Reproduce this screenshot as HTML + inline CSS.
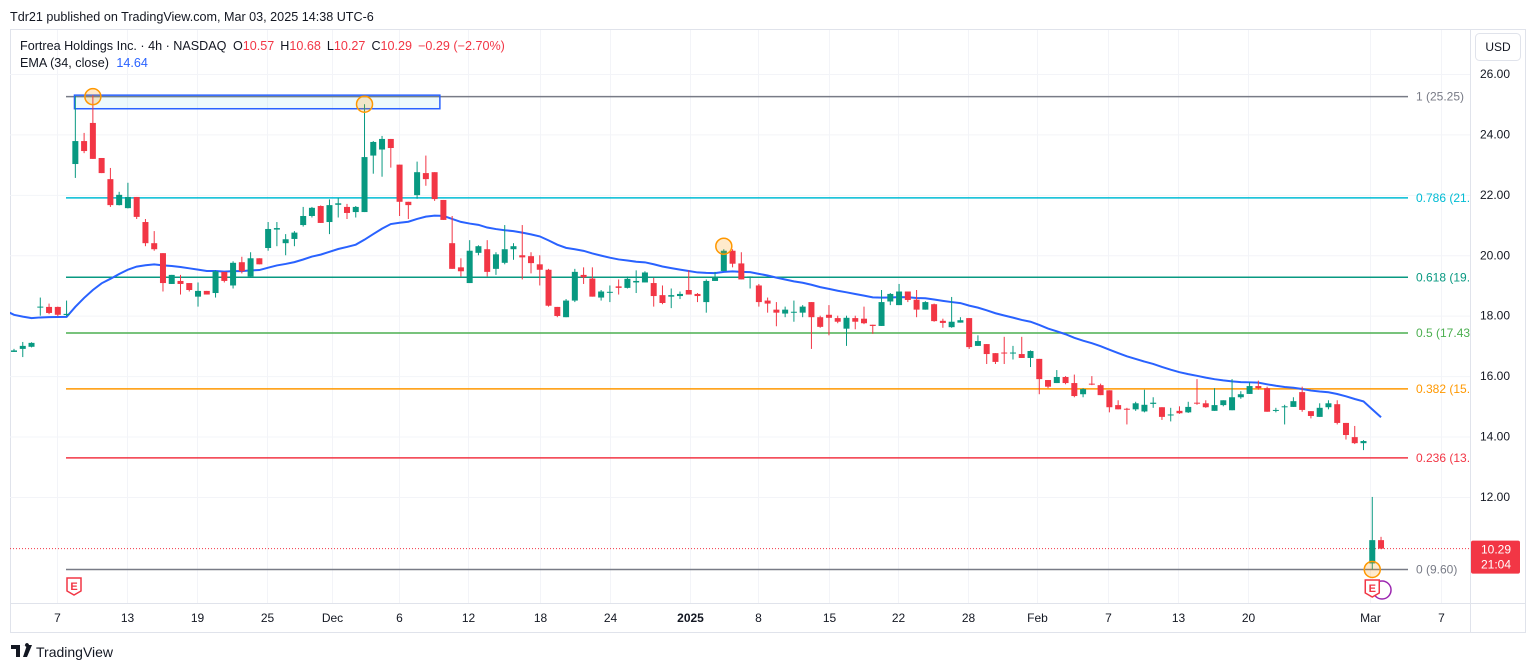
<!DOCTYPE html>
<html><head><meta charset="utf-8"><style>
html,body{margin:0;padding:0;background:#fff;width:1536px;height:670px;overflow:hidden;font-family:"Liberation Sans",sans-serif;}
svg{display:block}
</style></head><body>
<svg id="c" width="1536" height="670" xmlns="http://www.w3.org/2000/svg">
<defs><clipPath id="pane"><rect x="10" y="30" width="1460" height="573"/></clipPath></defs>
<rect x="10.5" y="29.5" width="1515" height="603" fill="#fff" stroke="#e0e3eb"/>
<line x1="1470.5" y1="30" x2="1470.5" y2="632" stroke="#e0e3eb"/>
<line x1="10" y1="603.5" x2="1526" y2="603.5" stroke="#e0e3eb"/>
<g id="grid"></g>
<g id="fib" clip-path="url(#pane)"></g>
<g id="candles" clip-path="url(#pane)"></g>
<g id="anno"></g>
<g id="axes"></g>
<text x="10" y="21" font-size="12.6" fill="#131722">Tdr21 published on TradingView.com, Mar 03, 2025 14:38 UTC-6</text>
<text x="20" y="50" font-size="12.6" fill="#131722">Fortrea Holdings Inc. · 4h · NASDAQ <tspan dx="3">O</tspan><tspan fill="#f23645">10.57</tspan><tspan dx="6">H</tspan><tspan fill="#f23645">10.68</tspan><tspan dx="6">L</tspan><tspan fill="#f23645">10.27</tspan><tspan dx="6">C</tspan><tspan fill="#f23645">10.29</tspan><tspan dx="6" fill="#f23645">−0.29 (−2.70%)</tspan></text>
<text x="20" y="67" font-size="12.6" fill="#131722">EMA (34, close) <tspan dx="4" fill="#2962ff">14.64</tspan></text>
<rect x="1475.5" y="33.5" width="45" height="27" rx="4" fill="#fff" stroke="#e0e3eb"/>
<text x="1498" y="51" font-size="12" fill="#131722" text-anchor="middle">USD</text>
<g>
<path d="M11 645h9v12h-4v-8h-5z M22 645h3a2 2 0 1 1 0 .1z M27 645h5l-5 12h-4z" fill="#131722"/>
<text x="36" y="657" font-size="14" fill="#131722">TradingView</text>
</g>
</svg>
<script>
const opens=[16.8,16.9,16.97,18.28,18.29,18.29,18.02,23.02,23.78,24.38,23.22,22.52,21.66,21.56,21.93,21.1,20.4,20.07,19.05,19.15,19.08,18.63,18.82,18.75,19.45,19.0,19.77,19.3,19.9,20.24,20.85,20.4,20.54,21.0,21.3,21.63,21.1,21.67,21.6,21.43,21.43,23.3,23.5,23.85,23.0,21.77,21.99,22.72,22.75,21.83,20.4,19.6,19.08,20.08,20.2,19.55,19.75,20.2,20.0,19.97,19.7,19.52,18.29,17.95,18.5,19.35,19.23,18.6,18.76,18.97,18.92,19.1,19.1,19.08,18.68,18.63,18.65,18.85,18.72,18.45,19.15,19.48,20.15,19.73,19.25,19.0,18.5,18.2,18.07,18.1,18.1,18.45,17.95,18.03,17.92,17.57,17.92,17.9,17.7,17.66,18.47,18.35,18.8,18.53,18.2,18.38,17.83,17.62,17.77,17.92,17.0,17.06,16.76,16.78,16.75,16.73,16.6,16.57,15.87,15.77,15.97,15.77,15.4,15.75,15.7,15.53,15.04,14.92,14.9,14.83,15.08,14.97,14.7,14.85,14.8,15.12,15.1,14.85,15.04,14.87,15.3,15.41,15.67,15.6,14.85,14.98,14.98,15.47,14.84,14.65,14.97,15.07,14.45,13.98,13.78,9.8,10.57];
const highs=[16.9,17.13,17.12,18.6,18.4,18.3,18.5,25.27,24.05,25.3,23.22,22.89,22.1,22.4,21.93,21.2,20.8,20.07,19.35,19.35,19.08,19.1,18.82,19.5,19.45,19.8,19.95,20.1,19.9,21.1,21.1,20.7,20.8,21.6,21.6,21.65,21.85,21.9,21.7,21.63,25.0,23.78,23.95,23.85,23.0,21.77,23.1,23.3,22.75,21.83,21.3,19.9,20.5,20.33,20.5,20.1,21.0,20.4,21.0,20.1,20.0,19.55,18.29,18.55,19.55,19.6,19.6,18.85,19.0,19.2,19.3,19.5,19.47,19.25,19.0,18.9,18.8,19.5,18.75,19.2,19.45,20.2,20.2,20.1,19.3,19.05,18.6,18.45,18.3,18.5,18.35,18.45,18.0,18.35,18.0,18.0,18.0,18.3,17.7,18.85,18.75,19.05,18.8,18.85,18.48,18.4,17.9,18.62,17.95,17.92,17.35,17.06,16.76,17.3,17.0,17.3,16.85,16.57,15.87,16.2,16.0,16.05,15.6,16.0,15.75,15.53,15.2,14.95,15.15,15.55,15.3,14.97,14.95,15.0,15.15,15.9,15.2,15.6,15.2,15.9,15.5,15.8,15.85,15.65,14.95,15.05,15.3,15.65,14.84,15.1,15.2,15.2,14.45,14.35,13.88,12.0,10.68];
const lows=[16.8,16.63,16.95,18.0,18.05,17.98,17.98,22.56,23.38,23.19,22.72,21.6,21.65,21.55,21.2,20.3,20.15,18.8,19.05,18.7,18.8,18.3,18.7,18.6,19.1,18.9,19.4,19.3,19.7,20.15,20.3,20.0,20.3,20.95,21.25,21.07,20.7,21.25,21.2,21.25,21.43,22.7,22.6,22.9,21.3,21.2,21.87,22.3,21.8,21.17,19.55,19.3,19.08,20.0,19.3,19.35,19.7,19.85,19.2,19.4,19.0,18.3,17.95,17.95,18.45,19.05,18.63,18.5,18.45,18.7,18.9,18.75,19.1,18.3,18.38,18.25,18.55,18.7,18.45,18.1,19.15,19.48,19.6,19.2,18.9,18.3,18.1,17.65,17.95,17.8,17.95,16.9,17.6,17.35,17.75,17.0,17.55,17.72,17.4,17.66,18.35,18.35,18.45,17.95,18.2,17.8,17.6,17.6,17.77,16.9,17.0,16.4,16.4,16.4,16.55,16.6,16.3,15.4,15.6,15.77,15.73,15.3,15.3,15.7,15.37,14.8,14.9,14.4,14.85,14.8,14.95,14.55,14.5,14.75,14.78,15.05,14.95,14.85,15.0,14.87,15.25,15.41,15.55,14.82,14.8,14.4,14.98,14.82,14.6,14.65,14.9,14.4,13.9,13.75,13.55,9.6,10.27];
const closes=[16.85,17.0,17.1,18.3,18.09,18.03,18.06,23.78,23.45,23.19,22.72,21.66,22.0,21.93,21.27,20.4,20.2,19.08,19.35,19.05,18.85,18.82,18.7,19.47,19.15,19.75,19.47,19.9,19.7,20.87,20.9,20.53,20.75,21.3,21.57,21.07,21.66,21.72,21.4,21.6,23.25,23.75,23.85,23.55,21.77,21.66,22.75,22.52,21.86,21.17,19.55,19.47,20.15,20.3,19.45,20.03,20.2,20.3,19.93,19.74,19.52,18.33,17.99,18.5,19.45,19.27,18.63,18.8,18.79,18.92,19.22,19.15,19.43,18.65,18.42,18.68,18.72,18.7,18.65,19.15,19.28,20.15,19.72,19.2,19.3,18.45,18.4,18.1,18.2,18.13,18.3,17.95,17.63,17.93,17.8,17.93,17.8,17.75,17.66,18.45,18.72,18.8,18.52,18.2,18.45,17.82,17.76,17.8,17.85,16.96,17.16,16.73,16.47,16.76,16.78,16.6,16.83,15.9,15.65,15.97,15.77,15.34,15.57,15.73,15.37,14.97,14.9,14.9,15.1,15.05,15.12,14.65,14.73,14.77,14.98,15.1,14.97,15.04,15.2,15.3,15.4,15.67,15.6,14.82,14.88,15.0,15.17,14.88,14.68,14.95,15.1,14.45,14.05,13.78,13.85,10.57,10.29];
const emaSeed=18.1;
const emaLength=34;
const priceTicks=[26,24,22,20,18,16,14,12];
const timeTickIdx=[4.9,12.9,20.9,28.9,36.3,43.9,51.8,60,68,77.1,84.9,93,100.9,108.9,116.7,124.8,132.8,140.8,154.7,162.8];
const timeTickLabels=["7","13","19","25","Dec","6","12","18","24","2025","8","15","22","28","Feb","7","13","20","Mar","7"];
const fibRatios=[1,0.786,0.618,0.5,0.382,0.236,0];
const fibHigh=25.25, fibLow=9.60;
const fibColors=["#787b86","#00bcd4","#089981","#4caf50","#ff9800","#f23645","#787b86"];
const highlightIdx=[9,40,81,155];
const highlightPrice=[25.25,25.0,20.3,9.6];
const lastPrice=10.29;

const NS="http://www.w3.org/2000/svg";
const Y=p=>74+(26-p)*30.21;
const X=i=>14+i*8.763;
function mk(tag,attrs,parent,text){const e=document.createElementNS(NS,tag);for(const k in attrs)e.setAttribute(k,attrs[k]);if(text!==undefined)e.textContent=text;parent.appendChild(e);return e;}
const grid=document.getElementById('grid'),fib=document.getElementById('fib'),cg=document.getElementById('candles'),anno=document.getElementById('anno'),axes=document.getElementById('axes');

priceTicks.forEach(p=>{
  const l=mk('line',{x1:10,x2:1470,y1:Y(p)+0.5,y2:Y(p)+0.5,stroke:'#f3f4f8'},grid);
  
  
  const t=mk('text',{x:1495,y:Y(p)+4,'font-size':12,fill:'#131722','text-anchor':'middle'},axes,p.toFixed(2));
  
  
});
timeTickIdx.forEach((ix,k)=>{
  const x=Math.round(X(ix))+0.5;
  const l=mk('line',{x1:x,x2:x,y1:30,y2:603,stroke:'#f3f4f8'},grid);
  
  
  const t=mk('text',{x:x,y:622,'font-size':12,fill:'#131722','text-anchor':'middle','font-weight':timeTickLabels[k]==='2025'?'bold':'normal'},axes,timeTickLabels[k]);
  
  
});

fibRatios.forEach((r,k)=>{
  const p=fibLow+(fibHigh-fibLow)*r;
  const l=mk('line',{x1:66,x2:1408,y1:Y(p),y2:Y(p),stroke:fibColors[k],'stroke-width':1.5},fib);
  
  
  const t=mk('text',{x:1416,y:Y(p)+4,'font-size':12,fill:fibColors[k]},fib,String(r)+' ('+p.toFixed(2)+')');
  
  
});

const rc=mk('rect',{x:X(6.9),y:Y(25.3),width:X(48.6)-X(6.9),height:Y(24.85)-Y(25.3),fill:'rgba(0,188,212,0.07)',stroke:'#2962ff','stroke-width':1.5},fib);



const dl=mk('line',{x1:10,x2:1470,y1:Y(lastPrice),y2:Y(lastPrice),stroke:'#f23645','stroke-width':1,'stroke-dasharray':'1 2'},cg);



let e=emaSeed;const a=2/(emaLength+1);let pts=[[X(-0.5),Y(e)]];
closes.forEach((c,i)=>{e=e+a*(c-e);pts.push([X(i),Y(e)]);});
const em=mk('polyline',{points:pts.map(p=>p.join(',')).join(' '),fill:'none',stroke:'#2962ff','stroke-width':2},cg);



closes.forEach((c,i)=>{
  const o=opens[i],up=c>=o,col=up?'#089981':'#f23645',x=X(i);
  const g=mk('g',{},cg);
  
  
  mk('line',{x1:x,x2:x,y1:Y(highs[i]),y2:Y(lows[i]),stroke:col,'stroke-width':1},g);
  const top=Y(Math.max(o,c)),h=Math.max(1,Math.abs(Y(o)-Y(c)));
  mk('rect',{x:x-3,y:top,width:6,height:h,fill:col},g);
});

highlightIdx.forEach((ix,k)=>{
  const c=mk('circle',{cx:X(ix),cy:Y(highlightPrice[k]),r:8,fill:'rgba(255,152,0,0.2)',stroke:'#ff9800','stroke-width':1.5},anno);
  
  
});
function earn(x,y){const g=mk('g',{},anno);
  
  
  mk('path',{d:`M${x-7} ${y-10}h14v13l-7 4l-7 -4z`,fill:'#fff',stroke:'#f23645','stroke-width':1.5},g);
  mk('text',{x:x,y:y+2,'font-size':11,'font-weight':'bold',fill:'#f23645','text-anchor':'middle'},g,'E');}
const pc=mk('circle',{cx:X(156)+1,cy:590,r:9,fill:'none',stroke:'#9c27b0','stroke-width':1.5},anno);


earn(74,588);earn(X(155),590);

const tg=mk('g',{},axes);


mk('rect',{x:1471,y:Y(lastPrice)-8,width:49,height:33,rx:2,fill:'#f23645'},tg);
mk('text',{x:1496,y:Y(lastPrice)+5,'font-size':12,fill:'#fff','text-anchor':'middle'},tg,lastPrice.toFixed(2));
mk('text',{x:1496,y:Y(lastPrice)+20,'font-size':12,fill:'#fff','text-anchor':'middle'},tg,'21:04');
</script>
</body></html>
